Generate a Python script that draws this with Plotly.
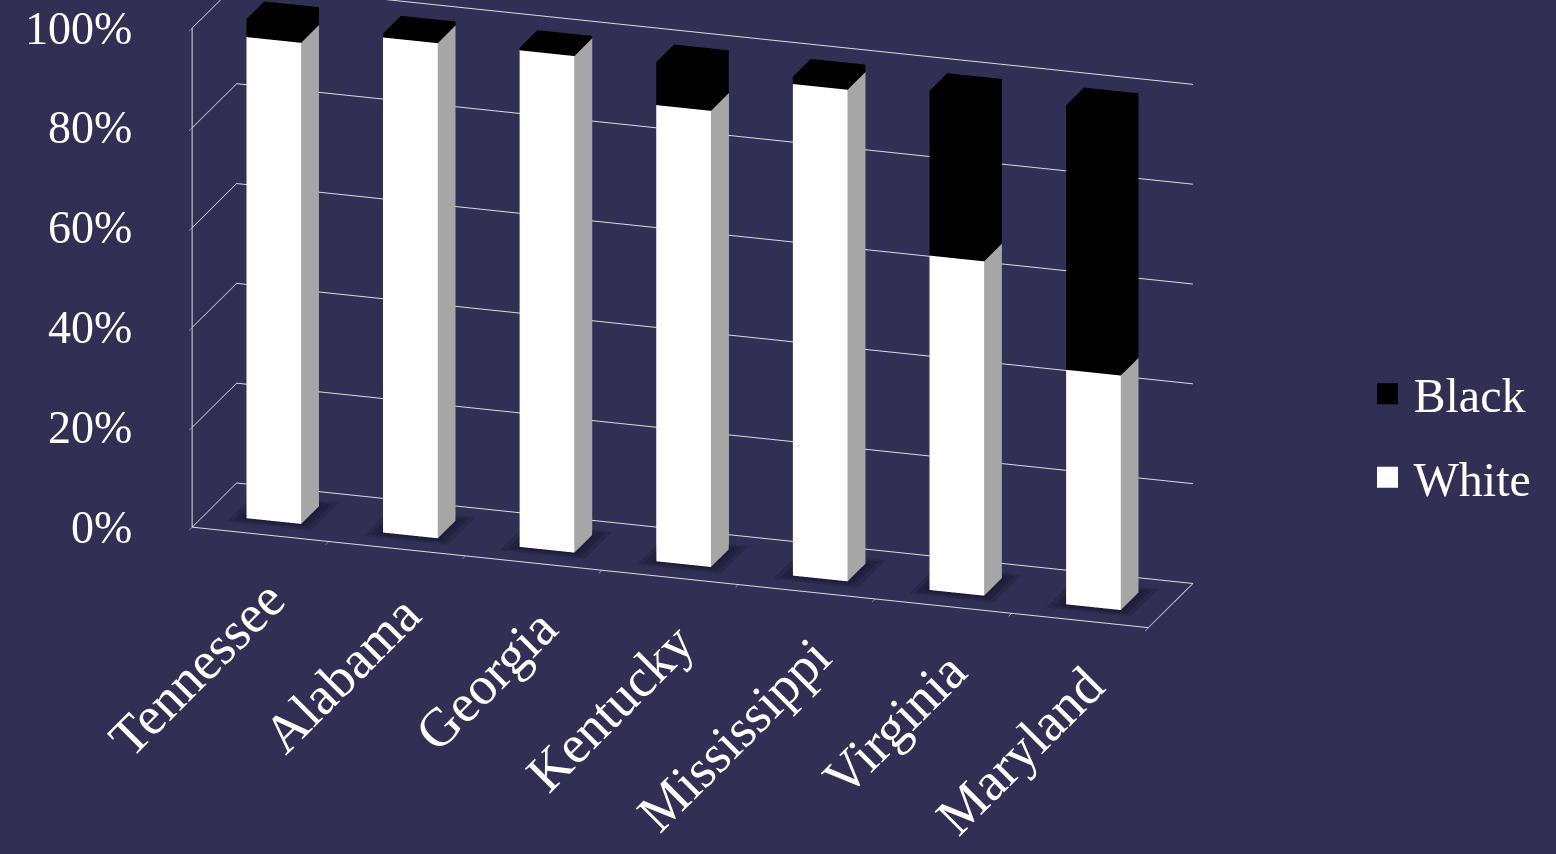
import plotly.graph_objects as go

# Share of population by state (percent)
states = ["Tennessee", "Alabama", "Georgia", "Kentucky", "Mississippi", "Virginia", "Maryland"]
white_pct = [96.4, 99.2, 99.5, 91.4, 98.5, 67.0, 47.0]
black_pct = [3.6, 0.8, 0.5, 8.6, 1.5, 33.0, 53.0]
z_ticks = [0, 20, 40, 60, 80, 100]
z_ticktext = ["0%", "20%", "40%", "60%", "80%", "100%"]

BAR_W = 0.4      # bar width in category units
BAR_D = 0.4      # bar depth in category units
FONT = "Palatino Linotype, Book Antiqua, Palatino, Liberation Serif, serif"
BG = "#322f55"
LINE = "#dcdcdc"

FACES = [
    ((0, 1, 5), (0, 5, 4), "front"),
    ((3, 2, 6), (3, 6, 7), "back"),
    ((0, 3, 7), (0, 7, 4), "left"),
    ((1, 2, 6), (1, 6, 5), "right"),
    ((0, 1, 2), (0, 2, 3), "bottom"),
    ((4, 5, 6), (4, 6, 7), "top"),
]


def box_mesh(bases, tops, colors):
    """Build one Mesh3d made of a column box per category."""
    xs, ys, zs, ii, jj, kk, fc = [], [], [], [], [], [], []
    for idx, (z0, z1) in enumerate(zip(bases, tops)):
        x0, x1 = idx - BAR_W / 2, idx + BAR_W / 2
        y0, y1 = -BAR_D / 2, BAR_D / 2
        n = len(xs)
        for (x, y, z) in [(x0, y0, z0), (x1, y0, z0), (x1, y1, z0), (x0, y1, z0),
                          (x0, y0, z1), (x1, y0, z1), (x1, y1, z1), (x0, y1, z1)]:
            xs.append(x); ys.append(y); zs.append(z)
        for t1, t2, name in FACES:
            for t in (t1, t2):
                ii.append(n + t[0]); jj.append(n + t[1]); kk.append(n + t[2])
                fc.append(colors[name])
    return dict(x=xs, y=ys, z=zs, i=ii, j=jj, k=kk, facecolor=fc)


def floor_shadow(n_cat, grow):
    """Flat quads on the floor around each column base (soft shadow)."""
    xs, ys, zs, ii, jj, kk = [], [], [], [], [], []
    for idx in range(n_cat):
        hx, hy = BAR_W / 2 + grow, BAR_D / 2 + grow
        n = len(xs)
        for (x, y) in [(idx - hx, -hy), (idx + hx, -hy), (idx + hx, hy), (idx - hx, hy)]:
            xs.append(x); ys.append(y); zs.append(0)
        ii += [n, n]; jj += [n + 1, n + 2]; kk += [n + 2, n + 3]
    return dict(x=xs, y=ys, z=zs, i=ii, j=jj, k=kk)


white_cols = dict(front="#ffffff", back="#ffffff", left="#ffffff",
                  right="#a6a6a6", bottom="#ffffff", top="#e6e6e6")
black_cols = {k: "#000000" for k in white_cols}

light = dict(ambient=1.0, diffuse=0.0, specular=0.0, roughness=1.0, fresnel=0.0)

fig = go.Figure()

white_base = [0] * len(states)
white_top = list(white_pct)
black_top = [w + b for w, b in zip(white_pct, black_pct)]

for grow in (0.03, 0.07, 0.11):
    fig.add_trace(go.Mesh3d(**floor_shadow(len(states), grow), color="#0d0c22", opacity=0.22,
                            flatshading=True, lighting=light, hoverinfo="skip",
                            showlegend=False))

fig.add_trace(go.Mesh3d(**box_mesh(white_base, white_top, white_cols), flatshading=True,
                        lighting=light, hoverinfo="skip", showlegend=False, name="White"))
fig.add_trace(go.Mesh3d(**box_mesh(white_top, black_top, black_cols), flatshading=True,
                        lighting=light, hoverinfo="skip", showlegend=False, name="Black"))

# legend entries
fig.add_trace(go.Scatter3d(x=[None], y=[None], z=[None], mode="markers", name="Black",
                           legendgroup="b",
                           marker=dict(symbol="square", size=16, color="#000000",
                                       line=dict(color="#000000", width=5))))
fig.add_trace(go.Scatter3d(x=[None], y=[None], z=[None], mode="markers", name="White",
                           legendgroup="w",
                           marker=dict(symbol="square", size=16, color="#ffffff",
                                       line=dict(color="#ffffff", width=5))))

# category labels along the front edge of the floor
cat_annotations = [
    dict(x=i, y=-0.5, z=0, text=s, textangle=-45, showarrow=False,
         xanchor="right", yanchor="top", xshift=38, yshift=-32,
         font=dict(family=FONT, size=54, color="white"))
    for i, s in enumerate(states)
]
# percentage labels beside the vertical axis
tick_annotations = [
    dict(x=-0.5, y=-0.5, z=v, text=t, showarrow=False,
         xanchor="right", yanchor="middle", xshift=-58,
         font=dict(family=FONT, size=46, color="white"))
    for v, t in zip(z_ticks, z_ticktext)
]

axis_common = dict(showbackground=False, showspikes=False, title=dict(text=""),
                   zeroline=False)

fig.update_layout(
    width=1556, height=854,
    paper_bgcolor=BG,
    margin=dict(l=0, r=0, t=0, b=0),
    font=dict(family=FONT, color="white"),
    showlegend=True,
    legend=dict(x=0.875, y=0.49, xanchor="left", yanchor="middle",
                font=dict(family=FONT, size=48, color="white"), itemwidth=42,
                bgcolor="rgba(0,0,0,0)", tracegroupgap=18),
    scene=dict(
        domain=dict(x=[0, 0.89], y=[0, 1]),
        bgcolor="rgba(0,0,0,0)",
        aspectmode="manual",
        aspectratio=dict(x=2.355, y=0.337, z=1.235),
        camera=dict(eye=dict(x=0.469, y=-1.441, z=0.217), center=dict(x=0, y=0, z=-0.30),
                    up=dict(x=0, y=0, z=1), projection=dict(type="orthographic")),
        xaxis=dict(**axis_common, range=[-0.5, 6.5], tickvals=[k - 0.5 for k in range(8)],
                   ticktext=[""] * 8, ticks="outside", ticklen=14, tickcolor=LINE,
                   showgrid=False, showline=True, linecolor=LINE, linewidth=2),
        yaxis=dict(**axis_common, range=[-0.5, 0.5], showticklabels=False, ticks="",
                   showgrid=False, showline=True, linecolor=LINE, linewidth=2),
        zaxis=dict(**axis_common, range=[0, 100], tickvals=z_ticks, showticklabels=False,
                   ticks="outside", ticklen=14, tickcolor=LINE,
                   showgrid=True, gridcolor=LINE, gridwidth=2,
                   showline=True, linecolor=LINE, linewidth=2),
        annotations=cat_annotations + tick_annotations,
    ),
)

fig.write_html("out.html")
